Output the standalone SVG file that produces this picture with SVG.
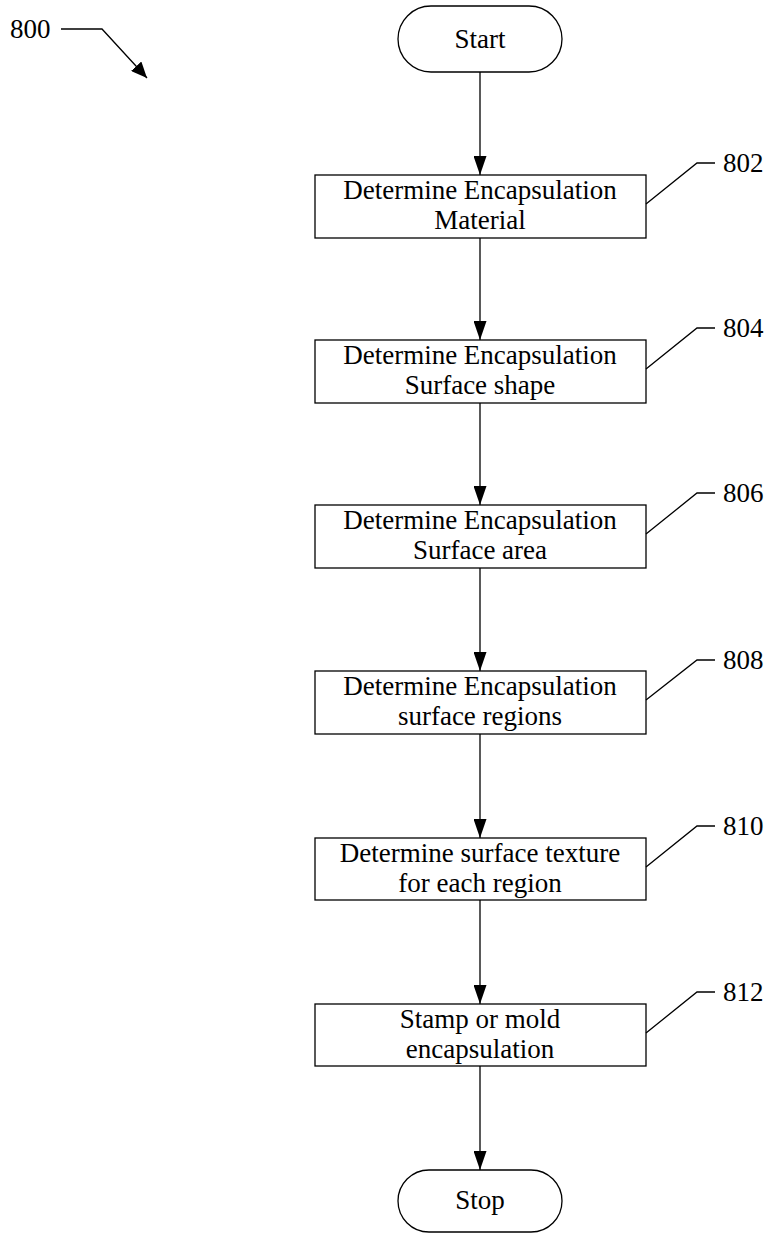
<svg xmlns="http://www.w3.org/2000/svg" width="768" height="1236" viewBox="0 0 768 1236">
<style>
.t{font-family:"Liberation Serif","Times New Roman",serif;font-size:27px;fill:#000;text-anchor:middle}
.l{font-family:"Liberation Serif","Times New Roman",serif;font-size:27px;fill:#000}
.b{fill:#fff;stroke:#000;stroke-width:1.3}
.c{fill:none;stroke:#000;stroke-width:1.3}
</style>
<defs>
<marker id="ah" markerWidth="19" markerHeight="13" refX="19" refY="6.5" orient="auto" markerUnits="userSpaceOnUse" viewBox="0 0 19 13">
<path d="M0,0 L19,6.5 L0,13 Z" fill="#000"/>
</marker>
<marker id="ad" markerWidth="16" markerHeight="14" refX="16" refY="7" orient="auto" markerUnits="userSpaceOnUse" viewBox="0 0 16 14">
<path d="M0,0 L16,7 L0,14 Z" fill="#000"/>
</marker>
</defs>
<rect width="768" height="1236" fill="#fff"/>
<g id="connectors">
<line class="c" x1="480" y1="72" x2="480" y2="175" marker-end="url(#ah)"/>
<line class="c" x1="480" y1="238" x2="480" y2="340" marker-end="url(#ah)"/>
<line class="c" x1="480" y1="403" x2="480" y2="505" marker-end="url(#ah)"/>
<line class="c" x1="480" y1="568" x2="480" y2="671" marker-end="url(#ah)"/>
<line class="c" x1="480" y1="734" x2="480" y2="838" marker-end="url(#ah)"/>
<line class="c" x1="480" y1="900" x2="480" y2="1004" marker-end="url(#ah)"/>
<line class="c" x1="480" y1="1066" x2="480" y2="1170" marker-end="url(#ah)"/>
</g>
<g id="ref800">
<text class="l" x="10" y="38">800</text>
<polyline class="c" points="61,29 102,29 147,78" marker-end="url(#ad)"/>
</g>
<g id="start">
<rect class="b" x="398" y="6" width="164" height="66" rx="33"/>
<text class="t" x="480" y="48">Start</text>
</g>
<g id="n802">
<rect class="b" x="315" y="175" width="331" height="63"/>
<text class="t" x="480" y="199">Determine Encapsulation</text>
<text class="t" x="480" y="229">Material</text>
<polyline class="c" points="646,204 697,163 715,163"/>
<text class="l" x="723" y="172">802</text>
</g>
<g id="n804">
<rect class="b" x="315" y="340" width="331" height="63"/>
<text class="t" x="480" y="364">Determine Encapsulation</text>
<text class="t" x="480" y="394">Surface shape</text>
<polyline class="c" points="646,369 697,328 715,328"/>
<text class="l" x="723" y="337">804</text>
</g>
<g id="n806">
<rect class="b" x="315" y="505" width="331" height="63"/>
<text class="t" x="480" y="529">Determine Encapsulation</text>
<text class="t" x="480" y="559">Surface area</text>
<polyline class="c" points="646,534 697,493 715,493"/>
<text class="l" x="723" y="502">806</text>
</g>
<g id="n808">
<rect class="b" x="315" y="671" width="331" height="63"/>
<text class="t" x="480" y="695">Determine Encapsulation</text>
<text class="t" x="480" y="725">surface regions</text>
<polyline class="c" points="646,700 697,660 715,660"/>
<text class="l" x="723" y="669">808</text>
</g>
<g id="n810">
<rect class="b" x="315" y="838" width="331" height="62"/>
<text class="t" x="480" y="862">Determine surface texture</text>
<text class="t" x="480" y="892">for each region</text>
<polyline class="c" points="646,867 697,826 715,826"/>
<text class="l" x="723" y="835">810</text>
</g>
<g id="n812">
<rect class="b" x="315" y="1004" width="331" height="62"/>
<text class="t" x="480" y="1028">Stamp or mold</text>
<text class="t" x="480" y="1058">encapsulation</text>
<polyline class="c" points="646,1033 697,992 715,992"/>
<text class="l" x="723" y="1001">812</text>
</g>
<g id="stop">
<rect class="b" x="398" y="1170" width="164" height="62" rx="31"/>
<text class="t" x="480" y="1209">Stop</text>
</g>
</svg>
